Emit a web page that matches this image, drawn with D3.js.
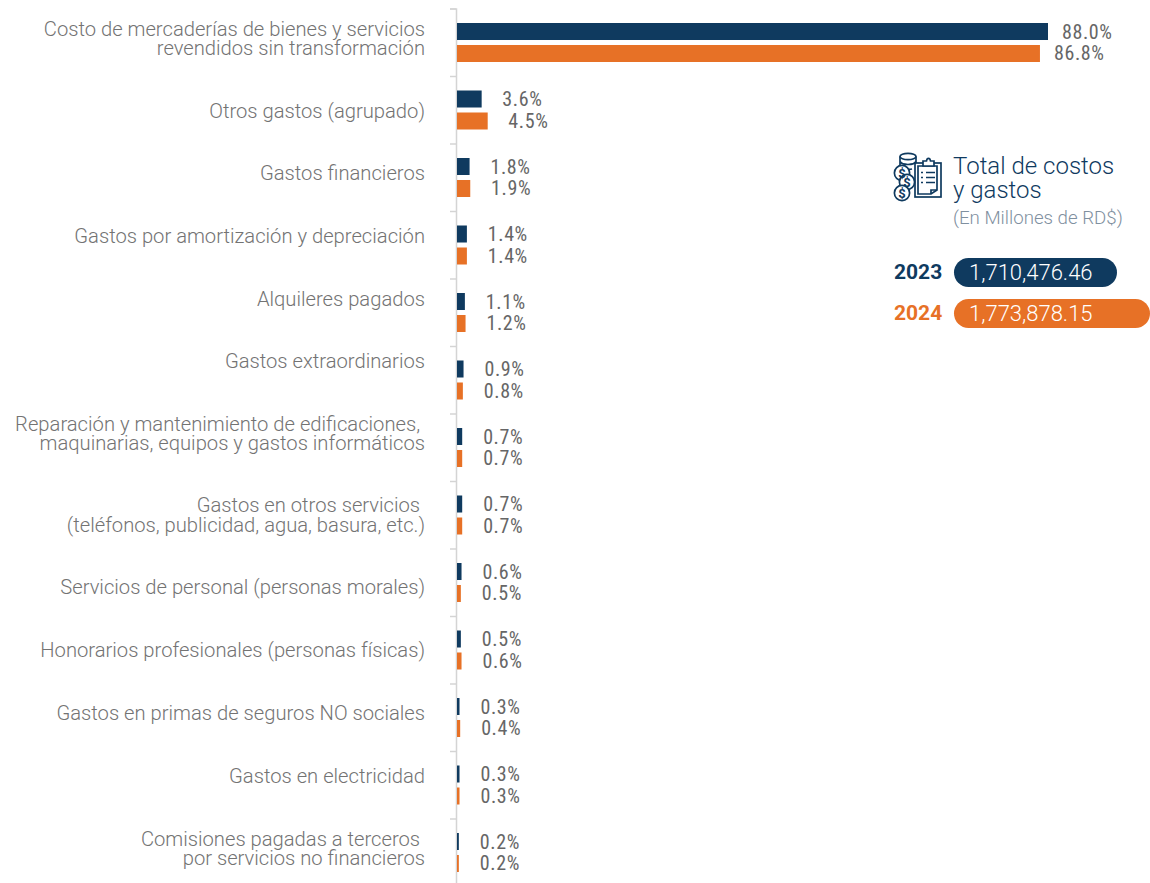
<!DOCTYPE html>
<html>
  <head>
    <meta charset="utf-8" />
    <title>Total de costos y gastos</title>
    <script src="https://d3js.org/d3.v7.min.js"></script>
    <style>
      body { margin: 0; background: white; }
      svg { display: block; }
      text { font-family: Roboto, sans-serif; white-space: pre; }
      .cat { font-weight: 300; font-size: 20.2px; fill: #737373; }
      .val { font-size: 20px; fill: #666666; font-stretch: condensed; letter-spacing: 0.6px; }
    </style>
  </head>
  <body>
    <svg id="chart" width="1150" height="883"></svg>

    <script>
    var categories = [
      "Costo de mercaderías de bienes y servicios\nrevendidos sin transformación",
      "Otros gastos (agrupado)",
      "Gastos financieros",
      "Gastos por amortización y depreciación",
      "Alquileres pagados",
      "Gastos extraordinarios",
      "Reparación y mantenimiento de edificaciones, \nmaquinarias, equipos y gastos informáticos",
      "Gastos en otros servicios \n(teléfonos, publicidad, agua, basura, etc.)",
      "Servicios de personal (personas morales)",
      "Honorarios profesionales (personas físicas)",
      "Gastos en primas de seguros NO sociales",
      "Gastos en electricidad",
      "Comisiones pagadas a terceros \npor servicios no financieros"
    ];
    var years = ["2023", "2024"];
    var values2023 = [88.0, 3.6, 1.8, 1.4, 1.1, 0.9, 0.7, 0.7, 0.6, 0.5, 0.3, 0.3, 0.2];
    var values2024 = [86.8, 4.5, 1.9, 1.4, 1.2, 0.8, 0.7, 0.7, 0.5, 0.6, 0.4, 0.3, 0.2];
    var totals = ["1,710,476.46", "1,773,878.15"];
    var colors = ["#0f3a5f", "#e77126"];

    var svg = d3.select("#chart");

    var rowEdge = d3.scaleLinear().domain([0, categories.length]).range([8.5, 886]);
    var inner = d3.scaleBand().domain(years).range([14.5, 53.5]).paddingInner(0.227);
    var x = d3.scaleLinear().domain([0, 88]).range([457.5, 1048]);
    // the value labels sit on their own slightly tighter scale in the original
    var labelX = d3.scaleLinear().domain([0, 88]).range([478.5, 1062]);

    // the category labels are hand placed, they drift from the row centres
    var catShift = [-4, 1, -4, -9, -13, -19, -14, 0, 5, 0, -4, -9, -4];

    var axis = d3.axisLeft(rowEdge)
      .tickValues(d3.range(categories.length + 1))
      .tickSize(6)
      .tickFormat("");

    svg.append("g")
      .attr("transform", "translate(456,0)")
      .call(axis)
      .call(function(g) {
        g.selectAll("path, line").attr("stroke", "#d4d4d4").attr("stroke-width", 1.5);
      });

    var rows = svg.selectAll(".row")
      .data(categories)
      .enter().append("g")
      .attr("class", "row")
      .attr("transform", function(d, i) { return "translate(0," + rowEdge(i) + ")"; });

    rows.each(function(cat, i) {
      var row = d3.select(this);
      var lines = cat.split("\n");
      var mid = (rowEdge(1) - rowEdge(0)) / 2 + catShift[i];

      var label = row.append("text")
        .attr("class", "cat")
        .attr("text-anchor", "end");

      label.selectAll("tspan")
        .data(lines)
        .enter().append("tspan")
        .attr("x", 425)
        .attr("y", function(d, j) { return mid + (j - (lines.length - 1) / 2) * 19.5; })
        .attr("dy", "0.35em")
        .text(function(d) { return d; });

      var pair = [values2023[i], values2024[i]];
      years.forEach(function(year, k) {
        row.append("rect")
          .attr("x", 457)
          .attr("y", inner(year))
          .attr("width", x(pair[k]) - 457)
          .attr("height", inner.bandwidth())
          .attr("fill", colors[k]);

        row.append("text")
          .attr("class", "val")
          .attr("x", labelX(pair[k]))
          .attr("y", inner(year) + inner.bandwidth() / 2)
          .attr("dy", "0.35em")
          .text(pair[k].toFixed(1) + "%");
      });
    });

    // legend box
    var legend = svg.append("g");
    var title = legend.append("text")
      .attr("font-size", 24).attr("font-weight", 300).attr("fill", colors[0]);
    title.append("tspan").attr("x", 953).attr("y", 174).text("Total de costos");
    title.append("tspan").attr("x", 953).attr("y", 198).text("y gastos");
    legend.append("text").attr("x", 953).attr("y", 224)
      .attr("font-size", 18.7).attr("font-weight", 300).attr("fill", "#7f90a0").text("(En Millones de RD$)");

    var pillWidths = [163, 196];
    years.forEach(function(year, k) {
      var top = 258 + k * 41;
      legend.append("text").attr("x", 894).attr("y", top + 21)
        .attr("font-size", 21).attr("font-weight", 700).attr("fill", colors[k]).text(year);
      legend.append("rect").attr("x", 954).attr("y", top)
        .attr("width", pillWidths[k]).attr("height", 29).attr("rx", 14.5)
        .attr("fill", colors[k]);
      legend.append("text").attr("x", 969).attr("y", top + 22)
        .attr("font-size", 22).attr("font-weight", 300).attr("fill", "white").text(totals[k]);
    });

    // icon: coins and clipboard
    var icon = legend.append("g")
      .attr("fill", "white").attr("stroke", colors[0]).attr("stroke-width", 1.7);
    icon.append("ellipse").attr("cx", 908).attr("cy", 156.5).attr("rx", 8).attr("ry", 3.2);
    icon.append("path").attr("d", "M900 156.5V170M916 156.5V163M900 161.5c2 4 14 4 16 0M900 166c2 3 8 4 12 3").attr("fill", "none");
    icon.append("rect").attr("x", 915).attr("y", 163).attr("width", 26).attr("height", 34).attr("fill", "none");
    icon.append("path").attr("d", "M918 166H937V190L931 194H918Z");
    icon.append("path").attr("d", "M923 166V161H926.5C927 157.5 930 157.5 930.5 161H934V166Z");
    icon.append("path").attr("d", "M921 172.5H923M921 177.5H923M921 182.5H923M926 172.5H935M926 177.5H935M926 182.5H935M931 194V190H937").attr("fill", "none");
    [[902, 173], [907, 182], [902, 193]].forEach(function(c) {
      icon.append("circle").attr("cx", c[0]).attr("cy", c[1]).attr("r", 7.6);
      legend.append("text").attr("x", c[0]).attr("y", c[1] + 4.5)
        .attr("text-anchor", "middle").attr("font-size", 13).attr("font-weight", 700)
        .attr("fill", colors[0]).text("$");
    });
    </script>
  </body>
</html>
